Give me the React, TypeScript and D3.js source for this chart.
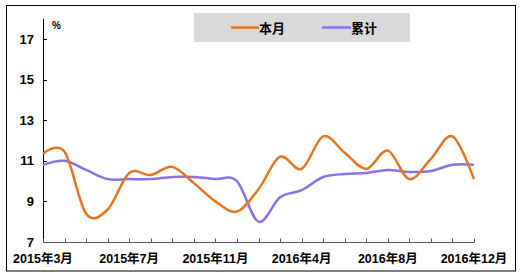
import React from "react";
import * as d3 from "d3";

const categories = [
  "2015年3月", "2015年4月", "2015年5月", "2015年6月", "2015年7月", "2015年8月", "2015年9月",
  "2015年10月", "2015年11月", "2015年12月", "2016年2月", "2016年3月", "2016年4月", "2016年5月",
  "2016年6月", "2016年7月", "2016年8月", "2016年9月", "2016年10月", "2016年11月", "2016年12月",
];
const monthly = [11.35, 11.45, 8.4, 8.6, 10.4, 10.3, 10.7, 9.9, 9.0, 8.5, 9.6, 11.2, 10.6, 12.2, 11.4, 10.6, 11.5, 10.1, 11.1, 12.2, 10.1];
const cumulative = [10.8, 11.0, 10.55, 10.1, 10.1, 10.1, 10.2, 10.2, 10.1, 10.0, 8.0, 9.2, 9.55, 10.2, 10.35, 10.4, 10.55, 10.45, 10.5, 10.8, 10.8];
const yTicks = [7, 9, 11, 13, 15, 17];
const xLabelIdx = [0, 4, 8, 12, 16, 20];
const seriesNames = ["本月", "累计"];
const colors = ["#E9741E", "#8E6FE8"];

export default function App() {
  const W = 522, H = 279;
  const x0 = 43, x1 = 474, yBottom = 242, yTop = 18.7;
  const x = d3.scaleLinear().domain([0, categories.length - 1]).range([x0, x1]);
  const y = d3.scaleLinear().domain([7, 18]).range([yBottom, yTop]);
  const line = d3
    .line<number>()
    .x((_, i) => x(i))
    .y((d) => y(d))
    .curve(d3.curveCardinal.tension(0));
  const font = "'Liberation Sans', Arial, sans-serif";
  const mixed = "'Liberation Sans', 'Noto Sans CJK SC', sans-serif";
  return (
    <svg width={W} height={H} style={{ position: "absolute", left: 0, top: 0, background: "#fff" }}>
      <rect x={6.5} y={5.5} width={509} height={265.5} fill="#fff" stroke="#000" strokeWidth={1} />
      {/* legend */}
      <rect x={194} y={13} width={216} height={29} fill="#D9D9D9" />
      <line x1={231} x2={259} y1={27.5} y2={27.5} stroke={colors[0]} strokeWidth={2.5} />
      <text x={259} y={32.5} fontFamily="'Noto Sans CJK SC', sans-serif" fontWeight="bold" fontSize={13}>{seriesNames[0]}</text>
      <line x1={322} x2={351} y1={27.5} y2={27.5} stroke={colors[1]} strokeWidth={2.5} />
      <text x={351} y={32.5} fontFamily="'Noto Sans CJK SC', sans-serif" fontWeight="bold" fontSize={13}>{seriesNames[1]}</text>
      {/* % */}
      <text x={52} y={29} fontFamily={font} fontWeight="bold" fontSize={10}>%</text>
      {/* y axis */}
      <line x1={x0 + 0.5} x2={x0 + 0.5} y1={yTop} y2={yBottom} stroke="#000" strokeWidth={1} />
      {yTicks.map((t) => (
        <g key={t}>
          <line x1={x0} x2={x0 + 4} y1={Math.round(y(t)) + 0.5} y2={Math.round(y(t)) + 0.5} stroke="#000" />
          <text x={34} y={y(t) + 4.5} textAnchor="end" fontFamily={font} fontWeight="bold" fontSize={13}>{t}</text>
        </g>
      ))}
      {/* x axis */}
      <line x1={x0} x2={x1 + 0.5} y1={yBottom + 0.5} y2={yBottom + 0.5} stroke="#555" strokeWidth={1} />
      {categories.map((c, i) => (
        <line key={c} x1={Math.round(x(i)) + 0.5} x2={Math.round(x(i)) + 0.5} y1={yBottom - 3.5} y2={yBottom} stroke="#555" />
      ))}
      {xLabelIdx.map((i) => (
        <text key={i} x={x(i)} y={263} textAnchor="middle" fontFamily={mixed} fontWeight="bold" fontSize={12.5}>{categories[i]}</text>
      ))}
      {/* lines */}
      <path d={line(cumulative) || ""} fill="none" stroke={colors[1]} strokeWidth={2.5} />
      <path d={line(monthly) || ""} fill="none" stroke={colors[0]} strokeWidth={2.5} />
    </svg>
  );
}
